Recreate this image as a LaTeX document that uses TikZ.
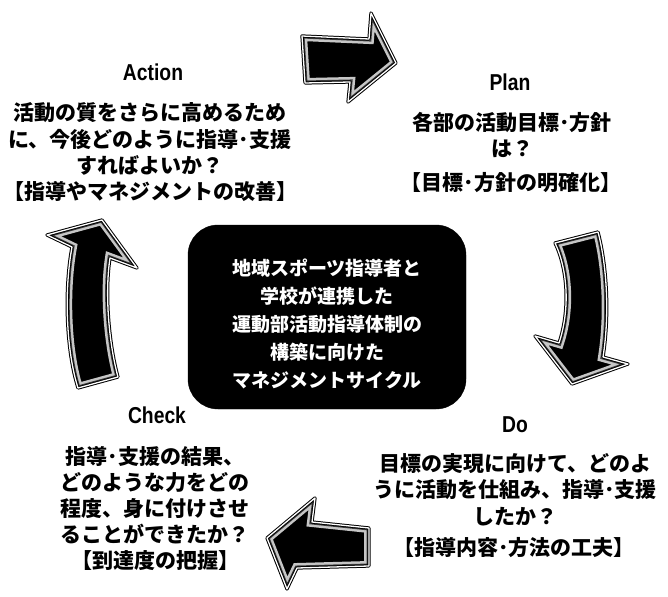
\documentclass[tikz,border=0pt]{standalone}
\usepackage{fontspec}
\setmainfont{Noto Sans CJK JP}
\newfontfamily\lat[FakeStretch=0.84]{Liberation Sans}
\tikzset{
  title/.style={inner sep=0pt, font=\lat\bfseries\fontsize{23}{27}\selectfont},
  body/.style={inner sep=0pt, align=center, font=\bfseries\fontsize{21}{26.3}\selectfont},
  core/.style={draw=black, fill=black, rounded corners=30pt, minimum width=278pt, minimum height=184pt, inner sep=0pt},
  coretxt/.style={inner sep=0pt, text=white, align=center, font=\bfseries\fontsize{19}{28}\selectfont},
}
\newcommand\fancyarrow[1]{%
  \begin{scope}
    \clip #1;
    \fill[black] #1;
    \draw[gray!45, line width=10pt] #1;
    \draw[black!75, line width=5pt] #1;
  \end{scope}
  \draw[black, line width=1pt, line join=round, double=white, double distance=1.3pt] #1;}
\begin{document}
\begin{tikzpicture}[x=1pt,y=-1pt]
\useasboundingbox (0,0) rectangle (668,596);
\def\arrowTop{(302,36) -- (369,39) -- (371,13) -- (396,63) -- (348,102) -- (350,82) -- (305,83) -- cycle}
\def\arrowRight{(555,243) -- (598,232) .. controls (608,270) and (609,320) .. (603,357) -- (628,364) -- (572,384) -- (535,336) -- (559,343) .. controls (570,310) and (568,270) .. (555,243) -- cycle}
\def\arrowLeft{(47,235) -- (102,220) -- (137,268) -- (110,258) .. controls (105,290) and (108,340) .. (118,377) -- (78,388) .. controls (66,350) and (64,290) .. (72,247) -- cycle}
\def\arrowBottom{(267,538) -- (315,498) -- (312,522) -- (369,528) -- (369,566) -- (297,568) -- (287,589) -- cycle}
\fancyarrow{\arrowTop}
\fancyarrow{\arrowRight}
\fancyarrow{\arrowLeft}
\fancyarrow{\arrowBottom}

\node[core] (box) at (327,317) {};
\node[coretxt] (boxtext) at (327,324) {地域スポーツ指導者と\\学校が連携した\\運動部活動指導体制の\\構築に向けた\\マネジメントサイクル};

\node[title] (actT) at (153,72) {Action};
\node[body] (actB) at (150,152.5) {活動の質をさらに高めるため\\に、今後どのように指導･支援\\すればよいか？\\【指導やマネジメントの改善】};

\node[title] (planT) at (510,82) {Plan};
\node[body] (planB) at (512,135) {各部の活動目標･方針\\は？};
\node[body] (planC) at (511,183) {【目標･方針の明確化】};

\node[title] (doT) at (515,425) {Do};
\node[body] (doB) at (515,489.5) {目標の実現に向けて、どのよ\\うに活動を仕組み、指導･支援\\したか？};
\node[body] (doC) at (514,548) {【指導内容･方法の工夫】};

\node[title] (chkT) at (157,415) {Check};
\node[body, font=\bfseries\fontsize{21}{25.8}\selectfont] (chkB) at (155,508.5) {指導･支援の結果、\\どのような力をどの\\程度、身に付けさせ\\ることができたか？\\【到達度の把握】};
\end{tikzpicture}
\end{document}
